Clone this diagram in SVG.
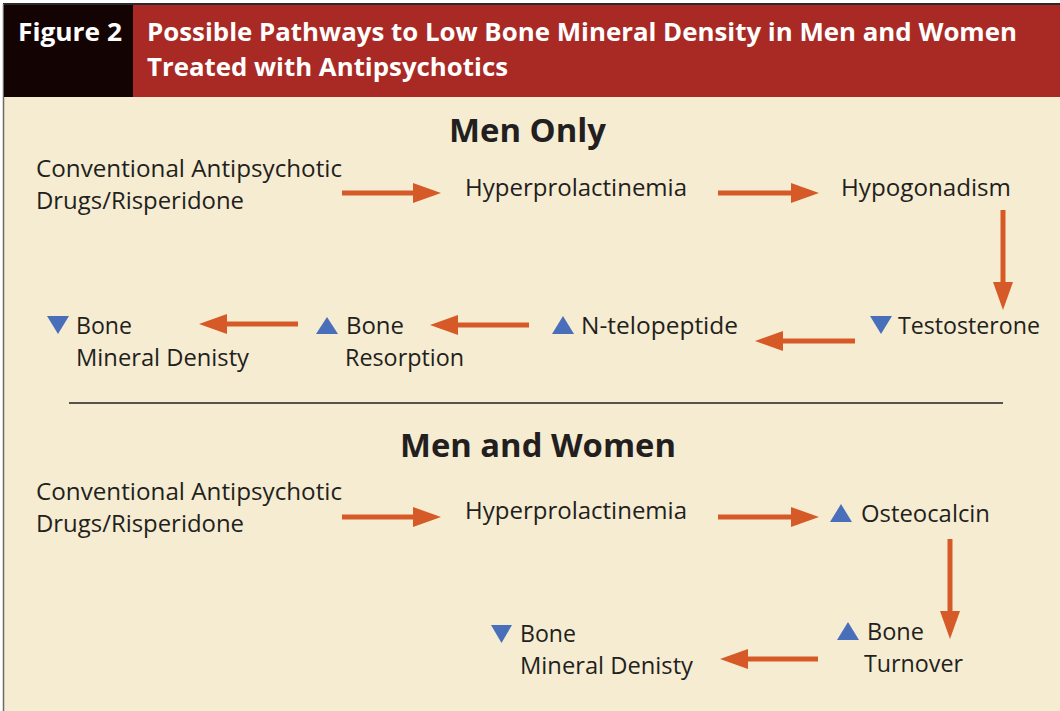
<svg xmlns="http://www.w3.org/2000/svg" width="1060" height="711" viewBox="0 0 1060 711">
<style>
.t{font-family:"Open Sans","Liberation Sans",sans-serif;font-size:24px;fill:#231F20}
.h{font-family:"Open Sans","Liberation Sans",sans-serif;font-size:33px;font-weight:bold;fill:#231F20}
.w{font-family:"Open Sans","Liberation Sans",sans-serif;font-size:25px;font-weight:bold;fill:#FFFFFF}
.a{stroke:#D65A27;stroke-width:5;fill:none;marker-end:url(#ah)}
.up{fill:#4A6FBA}
</style>
<defs>
<marker id="ah" markerUnits="userSpaceOnUse" markerWidth="28" markerHeight="20" refX="0" refY="10" orient="auto" viewBox="0 0 28 20">
<path d="M0,0 L28,10 L0,20 z" fill="#D65A27"/>
</marker>
</defs>
<rect x="0" y="0" width="1060" height="711" fill="#FFFFFF"/>
<rect x="3" y="4" width="1057" height="707" fill="#F6ECD2"/>
<line x1="3" y1="4" x2="1060" y2="4" stroke="#2A2A2A" stroke-width="2"/>
<line x1="3.5" y1="4" x2="3.5" y2="711" stroke="#6A6A6A" stroke-width="1.5"/>
<g id="header">
<rect x="4" y="5" width="129" height="92" fill="#140303"/>
<rect x="133" y="5" width="927" height="92" fill="#A92A25"/>
<text class="w" x="18" y="41" textLength="104" lengthAdjust="spacingAndGlyphs">Figure 2</text>
<text class="w" x="147" y="41" textLength="870" lengthAdjust="spacingAndGlyphs">Possible Pathways to Low Bone Mineral Density in Men and Women</text>
<text class="w" x="147" y="76" textLength="361" lengthAdjust="spacingAndGlyphs">Treated with Antipsychotics</text>
</g>
<g id="section-men-only">
<text class="h" x="449" y="142" textLength="157" lengthAdjust="spacingAndGlyphs">Men Only</text>
</g>
<g id="m-drugs">
<text class="t" x="36" y="177" textLength="306" lengthAdjust="spacingAndGlyphs">Conventional Antipsychotic</text>
<text class="t" x="36" y="209" textLength="208" lengthAdjust="spacingAndGlyphs">Drugs/Risperidone</text>
</g>
<g id="m-hyperprolactinemia">
<text class="t" x="465" y="196" textLength="222" lengthAdjust="spacingAndGlyphs">Hyperprolactinemia</text>
</g>
<g id="m-hypogonadism">
<text class="t" x="841" y="196" textLength="170" lengthAdjust="spacingAndGlyphs">Hypogonadism</text>
</g>
<g id="m-testosterone">
<polygon class="up" points="870,316 892,316 881,334"/>
<text class="t" x="898" y="334" textLength="142" lengthAdjust="spacingAndGlyphs">Testosterone</text>
</g>
<g id="m-ntelopeptide">
<polygon class="up" points="552,334 574,334 563,316"/>
<text class="t" x="581" y="334" textLength="157" lengthAdjust="spacingAndGlyphs">N-telopeptide</text>
</g>
<g id="m-resorption">
<polygon class="up" points="316,334 338,334 327,317"/>
<text class="t" x="346" y="334" textLength="58" lengthAdjust="spacingAndGlyphs">Bone</text>
<text class="t" x="345" y="366" textLength="119" lengthAdjust="spacingAndGlyphs">Resorption</text>
</g>
<g id="m-bmd">
<polygon class="up" points="47,316 69,316 58,334"/>
<text class="t" x="76" y="334" textLength="56" lengthAdjust="spacingAndGlyphs">Bone</text>
<text class="t" x="76" y="366" textLength="173" lengthAdjust="spacingAndGlyphs">Mineral Denisty</text>
</g>
<line x1="69" y1="403" x2="1003" y2="403" stroke="#231F20" stroke-width="1.5"/>
<g id="section-men-women">
<text class="h" x="400" y="457" textLength="276" lengthAdjust="spacingAndGlyphs">Men and Women</text>
</g>
<g id="w-drugs">
<text class="t" x="36" y="500" textLength="306" lengthAdjust="spacingAndGlyphs">Conventional Antipsychotic</text>
<text class="t" x="36" y="532" textLength="208" lengthAdjust="spacingAndGlyphs">Drugs/Risperidone</text>
</g>
<g id="w-hyperprolactinemia">
<text class="t" x="465" y="519" textLength="222" lengthAdjust="spacingAndGlyphs">Hyperprolactinemia</text>
</g>
<g id="w-osteocalcin">
<polygon class="up" points="830,522 852,522 841,504"/>
<text class="t" x="861" y="522" textLength="129" lengthAdjust="spacingAndGlyphs">Osteocalcin</text>
</g>
<g id="w-turnover">
<polygon class="up" points="837,640 859,640 848,622"/>
<text class="t" x="867" y="640" textLength="57" lengthAdjust="spacingAndGlyphs">Bone</text>
<text class="t" x="864" y="672" textLength="99" lengthAdjust="spacingAndGlyphs">Turnover</text>
</g>
<g id="w-bmd">
<polygon class="up" points="491,625 512,625 501.5,643"/>
<text class="t" x="520" y="642" textLength="56" lengthAdjust="spacingAndGlyphs">Bone</text>
<text class="t" x="520" y="674" textLength="173" lengthAdjust="spacingAndGlyphs">Mineral Denisty</text>
</g>
<g id="connectors">
<line class="a" x1="342" y1="193" x2="413" y2="193"/>
<line class="a" x1="718" y1="193" x2="791" y2="193"/>
<line class="a" x1="1003" y1="210" x2="1003" y2="282"/>
<line class="a" x1="855" y1="341" x2="783" y2="341"/>
<line class="a" x1="529" y1="325" x2="458" y2="325"/>
<line class="a" x1="298" y1="324" x2="227" y2="324"/>
<line class="a" x1="342" y1="517" x2="413" y2="517"/>
<line class="a" x1="718" y1="517" x2="791" y2="517"/>
<line class="a" x1="950" y1="539" x2="950" y2="611"/>
<line class="a" x1="818" y1="659" x2="748" y2="659"/>
</g>
</svg>
